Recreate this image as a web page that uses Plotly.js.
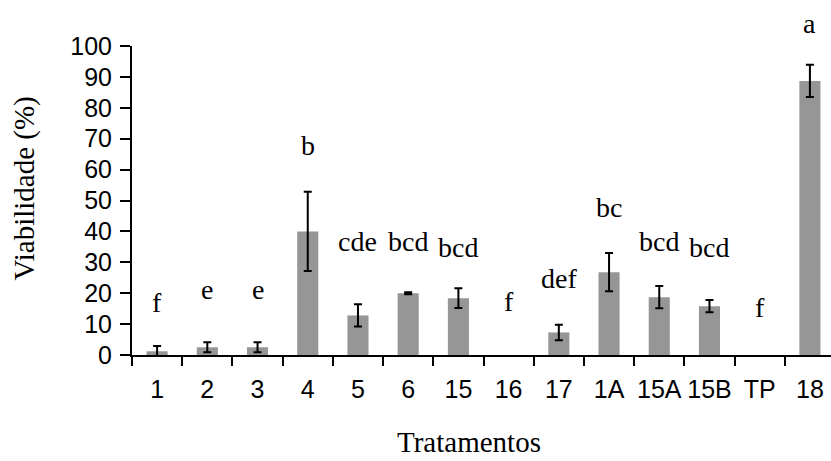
<!DOCTYPE html>
<html>
<head>
<meta charset="utf-8">
<script src="https://cdn.plot.ly/plotly-3.0.1.min.js"></script>
<style>
  html, body { margin: 0; padding: 0; background: #ffffff; }
  #chart { width: 831px; height: 461px; }
</style>
</head>
<body>
<div id="chart"></div>
<script>
// Treatments on the x axis
const tratamentos = ['1', '2', '3', '4', '5', '6', '15', '16', '17', '1A', '15A', '15B', 'TP', '18'];
// Mean viability (%) per treatment
const viabilidade = [1.2, 2.5, 2.5, 40.0, 12.8, 20.0, 18.4, 0, 7.3, 26.8, 18.7, 15.8, 0, 88.7];
// Standard error per treatment (NaN = no error bar)
const erroPadrao = [1.7, 1.6, 1.6, 12.8, 3.6, 0.3, 3.2, NaN, 2.5, 6.2, 3.6, 2.0, NaN, 5.2];
// Mean-separation letters
const letras = ['f', 'e', 'e', 'b', 'cde', 'bcd', 'bcd', 'f', 'def', 'bc', 'bcd', 'bcd', 'f', 'a'];
// Baseline height of each letter group (in % units)
const alturaLetras = [13.5, 17.7, 17.7, 64.4, 33.3, 33.3, 31.5, 13.9, 21.2, 44.2, 33.4, 31.3, 12.1, 104.0];

const W = 831, H = 461;
const M = { l: 132, r: 0, t: 46, b: 106 };
const plotW = W - M.l - M.r, plotH = H - M.t - M.b;
const paperX = px => (px - M.l) / plotW;
const paperY = py => (H - M.b - py) / plotH;

const yRange = [0, 100];
// value on the y scale -> fraction of the plot height (letters may sit above the top)
const yFrac = v => (v - yRange[0]) / (yRange[1] - yRange[0]);

const serif = 'Liberation Serif, Times New Roman, serif';
const sans = 'Liberation Sans, Arial, sans-serif';

const barras = {
  type: 'bar',
  x: tratamentos,
  y: viabilidade,
  width: 0.42,
  marker: { color: '#969696', line: { width: 0 } },
  error_y: {
    type: 'data',
    array: erroPadrao,
    visible: true,
    color: '#000000',
    thickness: 2,
    width: 4
  },
  hoverinfo: 'skip'
};

// letters are placed by category index so numeric-looking names are not misread
const anotLetras = tratamentos.map((t, i) => ({
  x: i,
  y: yFrac(alturaLetras[i]),
  xref: 'x',
  yref: 'paper',
  text: letras[i],
  showarrow: false,
  xanchor: 'center',
  yanchor: 'bottom',
  yshift: -7,
  font: { family: serif, size: 28, color: '#000000' }
}));

const titulos = [
  {
    text: 'Viabilidade (%)',
    xref: 'paper', yref: 'paper',
    x: paperX(24), y: paperY(188.5),
    xanchor: 'center', yanchor: 'middle',
    textangle: -90,
    showarrow: false,
    font: { family: serif, size: 29, color: '#000000' }
  },
  {
    text: 'Tratamentos',
    xref: 'paper', yref: 'paper',
    x: paperX(469), y: paperY(442),
    xanchor: 'center', yanchor: 'middle',
    showarrow: false,
    borderpad: 0,
    font: { family: serif, size: 29, color: '#000000' }
  }
];

const layout = {
  width: W,
  height: H,
  margin: M,
  paper_bgcolor: '#ffffff',
  plot_bgcolor: '#ffffff',
  showlegend: false,
  xaxis: {
    type: 'category',
    categoryorder: 'array',
    categoryarray: tratamentos,
    range: [-0.5, 13.42],
    showline: true,
    linecolor: '#000000',
    linewidth: 2,
    ticks: 'outside',
    tickson: 'boundaries',
    ticklen: 9,
    tickwidth: 2,
    tickcolor: '#000000',
    tickangle: 0,
    ticklabelstandoff: 11,
    tickfont: { family: sans, size: 25, color: '#000000' },
    showgrid: false,
    zeroline: false,
    fixedrange: true
  },
  yaxis: {
    range: yRange,
    dtick: 10,
    tick0: 0,
    showline: true,
    linecolor: '#000000',
    linewidth: 2,
    ticks: 'outside',
    ticklen: 10,
    tickwidth: 2,
    tickcolor: '#000000',
    ticklabelstandoff: 3,
    tickfont: { family: sans, size: 25, color: '#000000' },
    showgrid: false,
    zeroline: false,
    fixedrange: true
  },
  annotations: anotLetras.concat(titulos)
};

Plotly.newPlot('chart', [barras], layout, { staticPlot: true, displayModeBar: false });
</script>
</body>
</html>
